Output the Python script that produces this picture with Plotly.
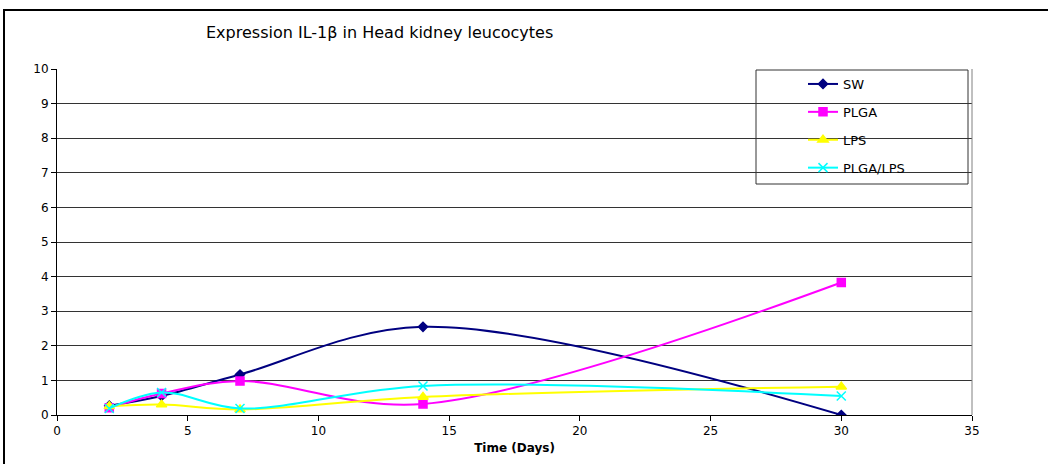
import plotly.graph_objects as go

days = [2, 4, 7, 14, 30]
sw = [0.27, 0.55, 1.17, 2.55, 0.0]
plga = [0.21, 0.62, 0.98, 0.32, 3.83]
lps = [0.25, 0.30, 0.16, 0.52, 0.82]
plga_lps = [0.19, 0.65, 0.19, 0.84, 0.55]

x_ticks = [0, 5, 10, 15, 20, 25, 30, 35]
y_ticks = list(range(0, 11))

W, H = 1048, 464
L, R, T, B = 57, 76, 69, 49
pw, ph = W - L - R, H - T - B

FONT = "DejaVu Sans, Liberation Sans, Arial, sans-serif"


def px(x):
    return (x - L) / pw


def py(y):
    return (H - B - y) / ph


series = [
    ("SW", sw, "#000080", "diamond", 7),
    ("PLGA", plga, "#FF00FF", "square", 8),
    ("LPS", lps, "#FFFF00", "triangle-up", 9),
    ("PLGA/LPS", plga_lps, "#00FFFF", "x-thin-open", 9),
]

fig = go.Figure()
for name, vals, col, sym, sz in series:
    fig.add_trace(go.Scatter(
        x=days, y=vals, name=name, mode="lines+markers",
        line=dict(color=col, width=2, shape="spline", smoothing=1),
        marker=dict(symbol=sym, size=sz, color=col,
                    line=dict(color=col, width=1.5)),
        legendgroup=name,
    ))

fig.update_layout(
    width=W, height=H,
    margin=dict(l=L, r=R, t=T, b=B, pad=0),
    paper_bgcolor="white", plot_bgcolor="white",
    font=dict(family=FONT, size=12, color="black"),
    showlegend=True,
    legend=dict(x=px(803), y=py(69), xanchor="left", yanchor="top",
                bgcolor="rgba(0,0,0,0)", borderwidth=0,
                font=dict(size=13), tracegroupgap=8,
                itemwidth=30),
    xaxis=dict(range=[0, 35], tickvals=x_ticks, ticks="outside", ticklen=5,
               tickcolor="black", showline=True, linecolor="black", linewidth=1,
               showgrid=False, zeroline=False,
               title=dict(text="<b>Time (Days)</b>", font=dict(size=12), standoff=6),
               tickfont=dict(size=12)),
    yaxis=dict(range=[0, 10], tickvals=y_ticks, ticks="outside", ticklen=5,
               tickcolor="black", showline=True, linecolor="black", linewidth=1,
               showgrid=True, gridcolor="#333333", gridwidth=1, zeroline=False,
               tickfont=dict(size=12)),
    shapes=[
        # outer chart frame
        dict(type="rect", xref="paper", yref="paper",
             x0=px(4), x1=px(1100), y0=py(10), y1=py(520),
             line=dict(color="black", width=2), fillcolor="rgba(0,0,0,0)",
             layer="above"),
        # right border of plot area
        dict(type="line", xref="paper", yref="paper",
             x0=1, x1=1, y0=0, y1=1, line=dict(color="#808080", width=1)),
        # legend box
        dict(type="rect", xref="paper", yref="paper",
             x0=px(756), x1=px(968), y0=py(184), y1=py(70),
             line=dict(color="#333333", width=1), fillcolor="white",
             layer="below"),
    ],
    annotations=[
        dict(text="Expression IL-1β in Head kidney leucocytes",
             xref="paper", yref="paper", x=px(204), y=py(32),
             xanchor="left", yanchor="middle", showarrow=False,
             font=dict(size=16, color="black")),
    ],
)

fig.write_html("out.html", config={"displayModeBar": False},
               post_script="document.body.style.margin='0px';")
